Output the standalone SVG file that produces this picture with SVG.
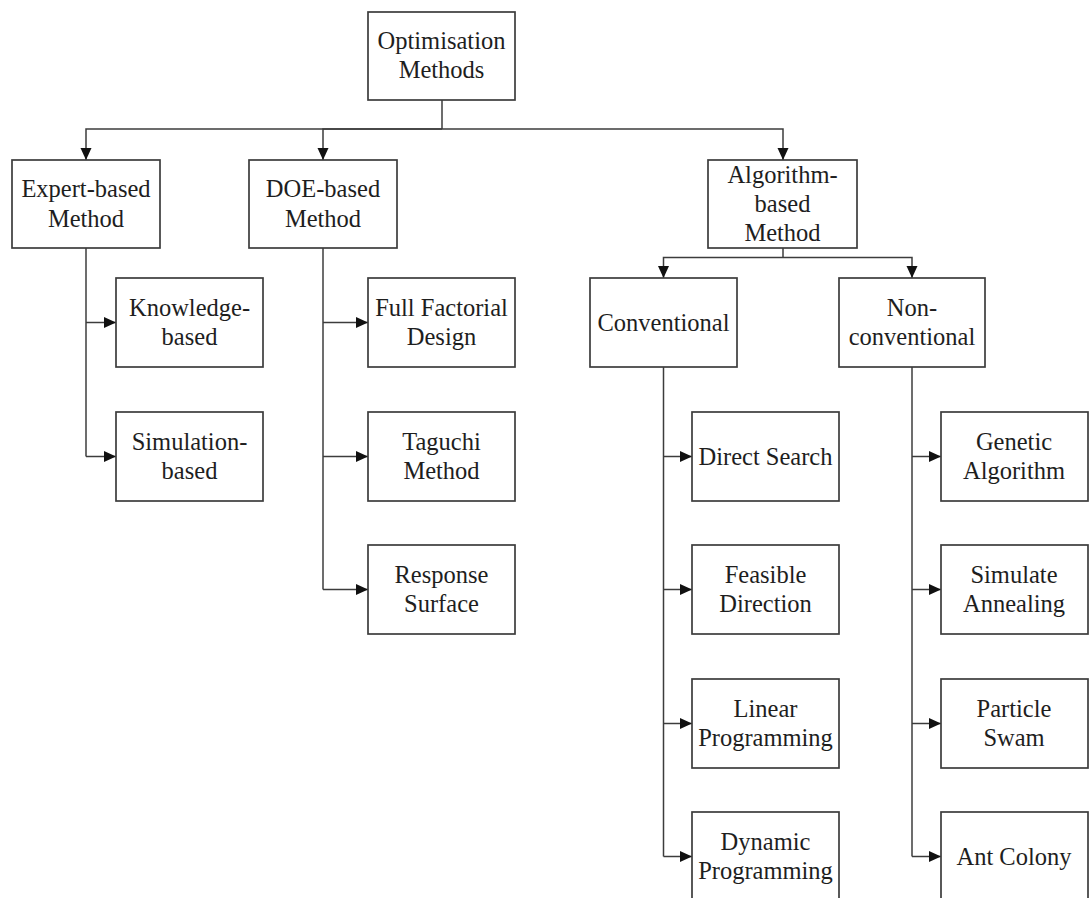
<svg xmlns="http://www.w3.org/2000/svg" width="1089" height="898" viewBox="0 0 1089 898">
  <style>
    .box { fill: #ffffff; stroke: #3c3c3c; stroke-width: 1.7; }
    .lbl { font-family: 'Liberation Serif', 'DejaVu Serif', serif; font-size: 24.5px; fill: #1e1e1e; text-anchor: middle; }
    .link { fill: none; stroke: #3c3c3c; stroke-width: 1.5; }
    .arrow { fill: none; stroke: #3c3c3c; stroke-width: 1.5; marker-end: url(#head); }
  </style>
  <defs>
    <marker id="head" viewBox="0 0 12 12" refX="12" refY="6" markerWidth="12" markerHeight="12" markerUnits="userSpaceOnUse" orient="auto">
      <path d="M0,0.5 L12,6 L0,11.5 z" fill="#111111"/>
    </marker>
  </defs>
  <rect width="1089" height="898" fill="#ffffff"/>

  <!-- connectors -->
  <g id="connectors">
    <path class="link" d="M442,100 V129"/>
    <path class="arrow" d="M442,129 H86 V160"/>
    <path class="arrow" d="M442,129 H323 V160"/>
    <path class="arrow" d="M442,129 H783 V160"/>

    <path class="link" d="M86,248 V456.5"/>
    <path class="arrow" d="M86,322.5 H116"/>
    <path class="arrow" d="M86,456.5 H116"/>

    <path class="link" d="M323,248 V589.5"/>
    <path class="arrow" d="M323,322.5 H368"/>
    <path class="arrow" d="M323,456.5 H368"/>
    <path class="arrow" d="M323,589.5 H368"/>

    <path class="link" d="M783,248 V257.5"/>
    <path class="arrow" d="M783,257.5 H663.5 V278"/>
    <path class="arrow" d="M783,257.5 H912 V278"/>

    <path class="link" d="M663.5,367 V856.5"/>
    <path class="arrow" d="M663.5,456.5 H692"/>
    <path class="arrow" d="M663.5,589.5 H692"/>
    <path class="arrow" d="M663.5,723.5 H692"/>
    <path class="arrow" d="M663.5,856.5 H692"/>

    <path class="link" d="M912,367 V856.5"/>
    <path class="arrow" d="M912,456.5 H941"/>
    <path class="arrow" d="M912,589.5 H941"/>
    <path class="arrow" d="M912,723.5 H941"/>
    <path class="arrow" d="M912,856.5 H941"/>
  </g>

  <g font-family="Liberation Serif, DejaVu Serif, serif">
  <!-- root -->
  <g id="optimisation-methods">
    <rect class="box" x="368" y="12" width="147" height="88"/>
    <text class="lbl" x="441.5" y="49">Optimisation</text>
    <text class="lbl" x="441.5" y="78">Methods</text>
  </g>

  <!-- second level -->
  <g id="expert-based">
    <rect class="box" x="12" y="160" width="148" height="88"/>
    <text class="lbl" x="86" y="197">Expert-based</text>
    <text class="lbl" x="86" y="226.5">Method</text>
  </g>
  <g id="doe-based">
    <rect class="box" x="249" y="160" width="148" height="88"/>
    <text class="lbl" x="323" y="197">DOE-based</text>
    <text class="lbl" x="323" y="226.5">Method</text>
  </g>
  <g id="algorithm-based">
    <rect class="box" x="708" y="160" width="149" height="88"/>
    <text class="lbl" x="782.5" y="183">Algorithm-</text>
    <text class="lbl" x="782.5" y="212">based</text>
    <text class="lbl" x="782.5" y="241">Method</text>
  </g>

  <!-- expert-based children -->
  <g id="knowledge-based">
    <rect class="box" x="116" y="278" width="147" height="89"/>
    <text class="lbl" x="189.5" y="315.5">Knowledge-</text>
    <text class="lbl" x="189.5" y="345">based</text>
  </g>
  <g id="simulation-based">
    <rect class="box" x="116" y="412" width="147" height="89"/>
    <text class="lbl" x="189.5" y="449.5">Simulation-</text>
    <text class="lbl" x="189.5" y="479">based</text>
  </g>

  <!-- DOE-based children -->
  <g id="full-factorial">
    <rect class="box" x="368" y="278" width="147" height="89"/>
    <text class="lbl" x="441.5" y="315.5">Full Factorial</text>
    <text class="lbl" x="441.5" y="345">Design</text>
  </g>
  <g id="taguchi">
    <rect class="box" x="368" y="412" width="147" height="89"/>
    <text class="lbl" x="441.5" y="449.5">Taguchi</text>
    <text class="lbl" x="441.5" y="479">Method</text>
  </g>
  <g id="response-surface">
    <rect class="box" x="368" y="545" width="147" height="89"/>
    <text class="lbl" x="441.5" y="582.5">Response</text>
    <text class="lbl" x="441.5" y="612">Surface</text>
  </g>

  <!-- algorithm-based children -->
  <g id="conventional">
    <rect class="box" x="590" y="278" width="147" height="89"/>
    <text class="lbl" x="663.5" y="330.5">Conventional</text>
  </g>
  <g id="non-conventional">
    <rect class="box" x="839" y="278" width="146" height="89"/>
    <text class="lbl" x="912" y="315.5">Non-</text>
    <text class="lbl" x="912" y="345">conventional</text>
  </g>

  <!-- conventional children -->
  <g id="direct-search">
    <rect class="box" x="692" y="412" width="147" height="89"/>
    <text class="lbl" x="765.5" y="464.5">Direct Search</text>
  </g>
  <g id="feasible-direction">
    <rect class="box" x="692" y="545" width="147" height="89"/>
    <text class="lbl" x="765.5" y="582.5">Feasible</text>
    <text class="lbl" x="765.5" y="612">Direction</text>
  </g>
  <g id="linear-programming">
    <rect class="box" x="692" y="679" width="147" height="89"/>
    <text class="lbl" x="765.5" y="716.5">Linear</text>
    <text class="lbl" x="765.5" y="746">Programming</text>
  </g>
  <g id="dynamic-programming">
    <rect class="box" x="692" y="812" width="147" height="89"/>
    <text class="lbl" x="765.5" y="849.5">Dynamic</text>
    <text class="lbl" x="765.5" y="879">Programming</text>
  </g>

  <!-- non-conventional children -->
  <g id="genetic-algorithm">
    <rect class="box" x="941" y="412" width="147" height="89"/>
    <text class="lbl" x="1014" y="449.5">Genetic</text>
    <text class="lbl" x="1014" y="479">Algorithm</text>
  </g>
  <g id="simulate-annealing">
    <rect class="box" x="941" y="545" width="147" height="89"/>
    <text class="lbl" x="1014" y="582.5">Simulate</text>
    <text class="lbl" x="1014" y="612">Annealing</text>
  </g>
  <g id="particle-swam">
    <rect class="box" x="941" y="679" width="147" height="89"/>
    <text class="lbl" x="1014" y="716.5">Particle</text>
    <text class="lbl" x="1014" y="746">Swam</text>
  </g>
  <g id="ant-colony">
    <rect class="box" x="941" y="812" width="147" height="89"/>
    <text class="lbl" x="1014" y="864.5">Ant Colony</text>
  </g>
  </g>
</svg>
